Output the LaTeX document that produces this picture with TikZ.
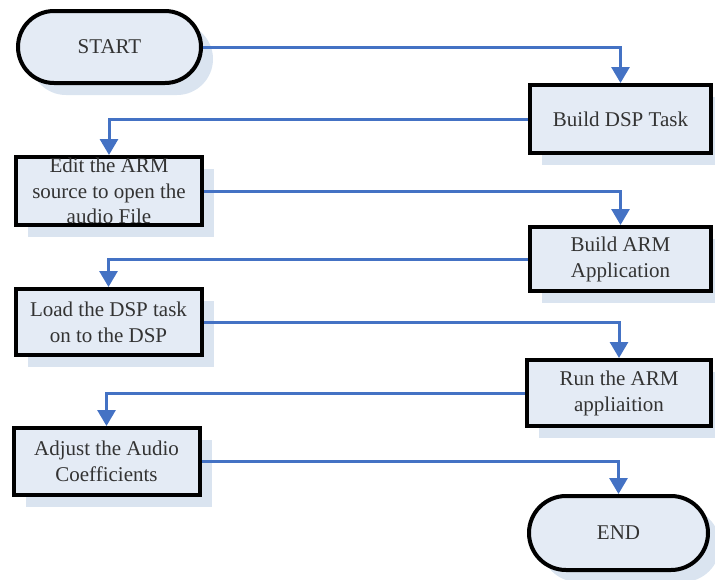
\documentclass[tikz,border=0pt]{standalone}
\usepackage{fontspec}
\setmainfont{Liberation Serif}
\usetikzlibrary{positioning, arrows.meta, shapes.misc, shadows}

\definecolor{boxfill}{RGB}{228,235,245}
\definecolor{boxshade}{RGB}{218,228,240}
\definecolor{flowblue}{RGB}{68,114,196}

\begin{document}
\begin{tikzpicture}[
    x=1pt, y=1pt,
    font=\fontsize{21}{26}\selectfont,
    >=Latex,
    every node/.style={align=center, text=black!80},
    shade/.style={
        drop shadow={shadow xshift=12pt, shadow yshift=-12pt, fill=boxshade, opacity=1}
    },
    stepbox/.style={
        draw=black, line width=4pt, fill=boxfill, shade,
        minimum height=68pt, inner sep=2pt
    },
    leftbox/.style={stepbox, minimum width=186pt},
    rightbox/.style={stepbox, minimum width=181pt},
    terminal/.style={
        rounded rectangle, draw=black, line width=4pt, fill=boxfill, shade,
        minimum height=72pt, inner sep=2pt
    },
    flow/.style={
        draw=flowblue, line width=3pt,
        -{Triangle[width=18pt, length=16pt]}
    }
]
\useasboundingbox (0,0) rectangle (715,-579);

% --------------------------------------------------------------------------
% Left column and right column, alternating from START to END.
% --------------------------------------------------------------------------
\node[terminal, minimum width=187pt] (start) at (109.5,-47) {START};
\node[rightbox] (dsp) at (620.5,-119) {Build DSP Task};
\node[leftbox, inner ysep=-1pt, font=\fontsize{21}{25.5}\selectfont] (edit) at (109,-191)
    {Edit the ARM\\source to open the\\audio File};
\node[rightbox, minimum height=64pt] (arm) at (620.5,-259) {Build ARM\\Application};
\node[leftbox, minimum height=66pt] (load) at (108.5,-322) {Load the DSP task\\on to the DSP};
\node[rightbox, minimum width=184pt, minimum height=66pt] (run) at (619,-393) {Run the ARM\\appliaition};
\node[leftbox, minimum height=67pt] (adjust) at (106.5,-461.5) {Adjust the Audio\\Coefficients};
\node[terminal, minimum width=183pt, minimum height=74pt] (finish) at (618.5,-533) {END};

% Connectors: leave sideways, turn down onto the next step.
\draw[flow] (start.east) -| (dsp.north);
\draw[flow] (dsp.west) -| (edit.north);
\draw[flow] (edit.east) -| (arm.north);
\draw[flow] (arm.west) -| (load.north);
\draw[flow] (load.east) -| (run.north);
\draw[flow] (run.west) -| (adjust.north);
\draw[flow] (adjust.east) -| (finish.north);

\end{tikzpicture}
\end{document}
